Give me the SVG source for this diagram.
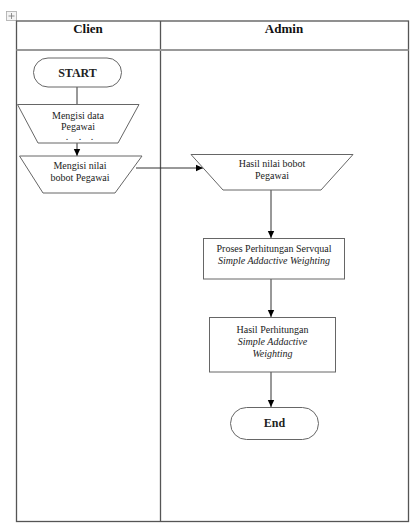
<svg xmlns="http://www.w3.org/2000/svg" width="410" height="523" viewBox="0 0 410 523">
<defs>
<style>
.frame{fill:none;stroke:#555;stroke-width:1.3}
.shape{fill:#fff;stroke:#666;stroke-width:1}
.t{font-family:"Liberation Serif","Times New Roman",serif;font-size:10px;fill:#222;text-anchor:middle}
.i{font-style:italic}
.b{font-weight:bold;font-size:12px}
.h{font-family:"Liberation Serif","Times New Roman",serif;font-weight:bold;font-size:13px;fill:#111;text-anchor:middle}
.c{fill:none;stroke:#333;stroke-width:1}
</style>
<marker id="ah" markerWidth="8" markerHeight="8" refX="7" refY="4" orient="auto" markerUnits="userSpaceOnUse">
<path d="M0,0.8 L7,4 L0,7.2 Z" fill="#000"/>
</marker>
</defs>
<g id="handle">
<rect x="6.5" y="11.5" width="10" height="9" fill="#f4f4f4" stroke="#aaa" stroke-width="0.8"/>
<path d="M11.5,13 V19 M8.5,16 H14.5" stroke="#777" stroke-width="0.8"/>
</g>
<g id="swimlanes">
<rect class="frame" x="16.5" y="21" width="392" height="500.5"/>
<line x1="160.5" y1="21" x2="160.5" y2="521.5" stroke="#555" stroke-width="1.3"/>
<line x1="16.5" y1="50" x2="408.5" y2="50" stroke="#999" stroke-width="1.8"/>
<text class="h" x="88" y="33">Clien</text>
<text class="h" x="284" y="33">Admin</text>
</g>
<g id="connectors">
<line class="c" x1="77" y1="87" x2="77" y2="104.5"/>
<line class="c" x1="77" y1="143" x2="77" y2="156" marker-end="url(#ah)"/>
<line class="c" x1="136" y1="168" x2="203" y2="168" marker-end="url(#ah)"/>
<line class="c" x1="271" y1="190" x2="271" y2="238" marker-end="url(#ah)"/>
<line class="c" x1="271" y1="279" x2="271" y2="317" marker-end="url(#ah)"/>
<line class="c" x1="271" y1="372" x2="271" y2="407" marker-end="url(#ah)"/>
</g>
<g id="start">
<rect class="shape" x="33.5" y="58" width="88" height="29" rx="14.5"/>
<text class="t b" x="77.5" y="77">START</text>
</g>
<g id="input1">
<polygon class="shape" points="17.5,104.5 139,104.5 118,143 38,143"/>
<text class="t" x="78" y="119">Mengisi data</text>
<text class="t" x="78" y="130">Pegawai</text>
<text class="t" x="67 80 92" y="140" font-size="6">...</text>
</g>
<g id="input2">
<polygon class="shape" points="19.5,156 142,156 115,193 43,193"/>
<text class="t" x="80" y="169">Mengisi nilai</text>
<text class="t" x="80" y="181">bobot Pegawai</text>
</g>
<g id="output1">
<polygon class="shape" points="191,154.5 353,154.5 321,190 223,190"/>
<text class="t" x="272" y="167">Hasil nilai bobot</text>
<text class="t" x="272" y="179">Pegawai</text>
</g>
<g id="process">
<rect class="shape" x="203.5" y="238.5" width="141" height="40.5"/>
<text class="t" x="274" y="252">Proses Perhitungan Servqual</text>
<text class="t i" x="274" y="264">Simple Addactive Weighting</text>
</g>
<g id="result">
<rect class="shape" x="209.5" y="317.5" width="126" height="54.5"/>
<text class="t" x="272.5" y="333">Hasil Perhitungan</text>
<text class="t i" x="272.5" y="345">Simple Addactive</text>
<text class="t i" x="272.5" y="357">Weighting</text>
</g>
<g id="end">
<rect class="shape" x="230.5" y="407.5" width="88" height="32" rx="16"/>
<text class="t b" x="274.5" y="427">End</text>
</g>
</svg>
